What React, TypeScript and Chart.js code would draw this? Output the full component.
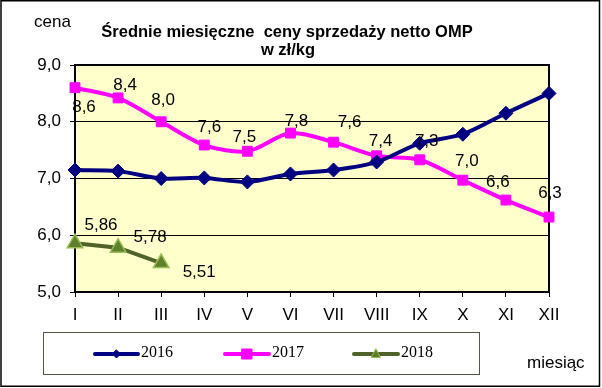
import React, { useEffect, useRef } from 'react';
import { Chart, registerables } from 'chart.js';

Chart.register(...registerables);

const months = ['I', 'II', 'III', 'IV', 'V', 'VI', 'VII', 'VIII', 'IX', 'X', 'XI', 'XII'];
const prices2016 = [7.15, 7.13, 7.0, 7.01, 6.94, 7.08, 7.15, 7.29, 7.62, 7.78, 8.15, 8.5];
const prices2017 = [8.6, 8.42, 8.0, 7.59, 7.48, 7.8, 7.64, 7.4, 7.33, 6.97, 6.62, 6.32];
const prices2018 = [5.86, 5.78, 5.51];
const seriesNames = ['2016', '2017', '2018'];
const yMin = 5;
const yMax = 9;
const yStep = 1;
const titleLines = ['Średnie miesięczne  ceny sprzedaży netto OMP', 'w zł/kg'];
const yAxisTitle = 'cena';
const xAxisTitle = 'miesiąc';

const SANS = '"Liberation Sans", Arial, sans-serif';
const SERIF = '"Liberation Serif", "Times New Roman", serif';

const C2016 = '#000080';
const C2017 = '#FF00FF';
const C2018 = '#4F6228';
const C2018_FILL = '#5F7F2C';
const C2018_EDGE = '#9BBB59';

// label placement (style): offsets from the point, per dataset
const labelOffsets: Record<number, [number, number][]> = {
  1: [[9, 20], [7, -13], [2, -21], [5, -18], [-3, -14], [6, -12], [16, -20], [4, -14], [7, -18], [4, -19], [-8, -18], [1, -24]],
  2: [[26, -18], [32, -10], [38, 9]],
};
const labelDecimals: Record<number, number> = { 1: 1, 2: 2 };

function fmt(v: number, d: number) {
  return v.toFixed(d).replace('.', ',');
}

function drawMarker(ctx: CanvasRenderingContext2D, kind: string, x: number, y: number, r: number, fill: string, stroke: string) {
  ctx.save();
  ctx.fillStyle = fill;
  ctx.strokeStyle = stroke;
  ctx.lineWidth = 1;
  ctx.beginPath();
  if (kind === 'diamond') {
    ctx.moveTo(x, y - r);
    ctx.lineTo(x + r, y);
    ctx.lineTo(x, y + r);
    ctx.lineTo(x - r, y);
  } else if (kind === 'square') {
    ctx.rect(x - r, y - r, 2 * r, 2 * r);
  } else {
    ctx.moveTo(x, y - r);
    ctx.lineTo(x + r * 0.9, y + r * 0.7);
    ctx.lineTo(x - r * 0.9, y + r * 0.7);
  }
  ctx.closePath();
  ctx.fill();
  ctx.stroke();
  ctx.restore();
}

const decor = {
  id: 'decor',
  beforeDraw(chart: any) {
    const { ctx, chartArea: a } = chart;
    ctx.save();
    ctx.fillStyle = '#FFFFFF';
    ctx.fillRect(0, 0, chart.width, chart.height);
    ctx.fillStyle = '#FFFFCC';
    ctx.fillRect(a.left, a.top, a.right - a.left, a.bottom - a.top);
    ctx.restore();
  },
  beforeDatasetsDraw(chart: any) {
    const { ctx, chartArea: a } = chart;
    ctx.save();
    ctx.strokeStyle = '#000';
    ctx.lineWidth = 2;
    ctx.beginPath();
    ctx.moveTo(a.left, a.top);
    ctx.lineTo(a.right, a.top);
    ctx.lineTo(a.right, a.bottom);
    ctx.stroke();
    ctx.restore();
  },
  afterDatasetsDraw(chart: any) {
    const { ctx } = chart;
    ctx.save();
    ctx.fillStyle = '#000';
    ctx.font = `17px ${SANS}`;
    ctx.textAlign = 'center';
    ctx.textBaseline = 'middle';
    chart.data.datasets.forEach((ds: any, di: number) => {
      const offs = labelOffsets[di];
      if (!offs) return;
      const meta = chart.getDatasetMeta(di);
      meta.data.forEach((pt: any, i: number) => {
        const o = offs[i] || [0, -18];
        ctx.fillText(fmt(ds.data[i], labelDecimals[di]), pt.x + o[0], pt.y + o[1]);
      });
    });
    ctx.restore();
  },
  afterDraw(chart: any) {
    const { ctx } = chart;
    ctx.save();
    // titles
    ctx.fillStyle = '#000';
    ctx.textAlign = 'center';
    ctx.textBaseline = 'middle';
    ctx.font = `bold 16.5px ${SANS}`;
    ctx.fillText(titleLines[0], 287, 32);
    ctx.fillText(titleLines[1], 288, 50);
    ctx.font = `17px ${SANS}`;
    ctx.textAlign = 'left';
    ctx.fillText(yAxisTitle, 34, 22);
    ctx.fillText(xAxisTitle, 527, 363);
    // legend box
    ctx.strokeStyle = '#555544';
    ctx.lineWidth = 1;
    ctx.strokeRect(43.5, 332.5, 436, 42);
    const entries = [
      { x1: 95, x2: 138, color: C2016, kind: 'diamond', r: 4, fill: C2016, edge: C2016 },
      { x1: 225, x2: 269, color: C2017, kind: 'square', r: 5, fill: C2017, edge: C2017 },
      { x1: 354, x2: 398, color: C2018, kind: 'triangle', r: 5, fill: C2018_FILL, edge: C2018_EDGE },
    ];
    entries.forEach((e, i) => {
      ctx.strokeStyle = e.color;
      ctx.lineWidth = 4;
      ctx.lineCap = 'round';
      ctx.beginPath();
      ctx.moveTo(e.x1, 354);
      ctx.lineTo(e.x2, 354);
      ctx.stroke();
      drawMarker(ctx, e.kind, (e.x1 + e.x2) / 2, 354, e.r, e.fill, e.edge);
      ctx.fillStyle = '#000';
      ctx.font = `16px ${SERIF}`;
      ctx.textAlign = 'left';
      ctx.textBaseline = 'middle';
      ctx.fillText(seriesNames[i], e.x2 + 3, 353);
    });
    // outer border
    ctx.strokeStyle = '#000';
    ctx.lineWidth = 1.5;
    ctx.strokeRect(1, 0.75, 598.5, 385.5);
    ctx.restore();
  },
};

export default function App() {
  const ref = useRef<HTMLCanvasElement | null>(null);
  useEffect(() => {
    document.body.style.margin = '0';
    const canvas = ref.current;
    if (!canvas) return;
    const chart = new Chart(canvas, {
      type: 'line',
      data: {
        labels: months,
        datasets: [
          {
            label: seriesNames[0],
            data: prices2016,
            borderColor: C2016,
            backgroundColor: C2016,
            borderWidth: 4,
            pointStyle: 'rectRot',
            pointRadius: 7,
            pointBorderWidth: 1,
            pointBackgroundColor: C2016,
            pointBorderColor: C2016,
            tension: 0.3,
            clip: false as any,
          },
          {
            label: seriesNames[1],
            data: prices2017,
            borderColor: C2017,
            backgroundColor: C2017,
            borderWidth: 4,
            pointStyle: 'rect',
            pointRadius: 7,
            pointBorderWidth: 1,
            pointBackgroundColor: C2017,
            pointBorderColor: C2017,
            tension: 0.3,
            clip: false as any,
          },
          {
            label: seriesNames[2],
            data: prices2018,
            borderColor: C2018,
            backgroundColor: C2018_FILL,
            borderWidth: 4,
            pointStyle: 'triangle',
            pointRadius: 9,
            pointBorderWidth: 1.5,
            pointBackgroundColor: C2018_FILL,
            pointBorderColor: C2018_EDGE,
            tension: 0,
            clip: false as any,
          },
        ],
      },
      options: {
        responsive: false,
        animation: false,
        devicePixelRatio: 1,
        layout: { padding: { top: 65, right: 53, left: 0, bottom: 0 } },
        plugins: {
          legend: { display: false },
          title: { display: false },
          tooltip: { enabled: false },
        },
        scales: {
          x: {
            type: 'category',
            offset: false,
            grid: { display: true, drawOnChartArea: false, drawTicks: true, tickLength: 5, color: '#000', lineWidth: 1 },
            border: { display: true, color: '#000', width: 2 },
            ticks: { color: '#000', font: { family: SANS, size: 17 }, padding: 8, maxRotation: 0, autoSkip: false },
            afterFit(s: any) { s.height = 96; },
          },
          y: {
            min: yMin,
            max: yMax,
            grid: { color: '#000', lineWidth: 1, drawTicks: true, tickLength: 5 },
            border: { display: true, color: '#000', width: 2 },
            ticks: {
              stepSize: yStep,
              color: '#000',
              font: { family: SANS, size: 17 },
              padding: 9,
              callback: (v: any) => fmt(Number(v), 1),
            },
            afterFit(s: any) { s.width = 75; },
          },
        },
      },
      plugins: [decor],
    });
    return () => chart.destroy();
  }, []);
  return (
    <div style={{ width: 602, height: 388 }}>
      <canvas ref={ref} width={602} height={388} style={{ display: 'block' }} />
    </div>
  );
}
